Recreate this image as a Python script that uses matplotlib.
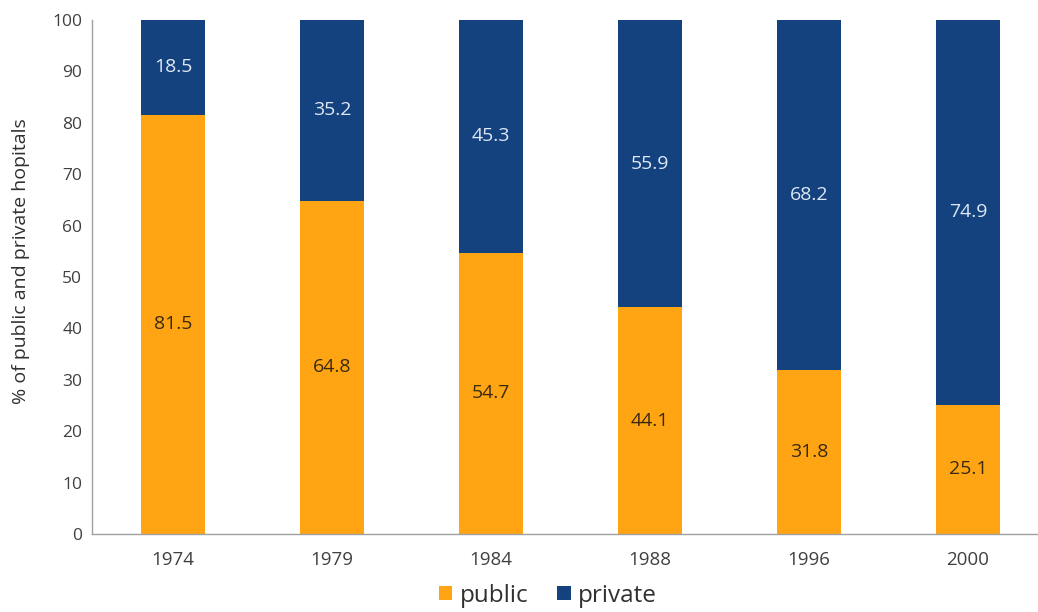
import matplotlib
matplotlib.use("Agg")
import matplotlib.pyplot as plt
import numpy as np

years = ["1974", "1979", "1984", "1988", "1996", "2000"]
public = [81.5, 64.8, 54.7, 44.1, 31.8, 25.1]
private = [18.5, 35.2, 45.3, 55.9, 68.2, 74.9]

orange = "#FFA412"
blue = "#13427F"

plt.rcParams["font.family"] = ["Open Sans", "DejaVu Sans"]

fig = plt.figure(figsize=(10.38, 6.12), dpi=100)
ax = fig.add_axes([0.0886, 0.1275, 0.9114, 0.840])

x = np.arange(len(years))
w = 0.40
ax.bar(x, public, w, color=orange, label="public")
ax.bar(x, private, w, bottom=public, color=blue, label="private")

for xi, p, q in zip(x, public, private):
    ax.text(xi, p / 2, f"{p}", ha="center", va="center", fontsize=14, color="#3a2a10")
    ax.text(xi, p + q / 2, f"{q}", ha="center", va="center", fontsize=14, color="#dfe8f5")

ax.set_ylim(0, 100)
ax.set_xlim(-0.51, 5.44)
ax.set_yticks(range(0, 101, 10))
ax.set_xticks(x)
ax.set_xticklabels(years)
ax.tick_params(axis="both", length=0, colors="#404040")
ax.tick_params(axis="x", pad=12, labelsize=13.5)
ax.tick_params(axis="y", pad=7, labelsize=12.5)
for s in ["top", "right"]:
    ax.spines[s].set_visible(False)
for s in ["left", "bottom"]:
    ax.spines[s].set_color("#a0a0a0")
    ax.spines[s].set_linewidth(1.0)

ax.set_ylabel("% of public and private hopitals", fontsize=14, color="#303030")
ax.yaxis.set_label_coords(-0.066, 0.53)

ax.legend(loc="center", bbox_to_anchor=(0.482, -0.12), ncol=2, frameon=False,
          fontsize=17.5, handlelength=0.55, handleheight=0.55, handletextpad=0.3,
          columnspacing=1.2, labelcolor="#303030", borderpad=0.1)

fig.savefig("out.png", dpi=100)
